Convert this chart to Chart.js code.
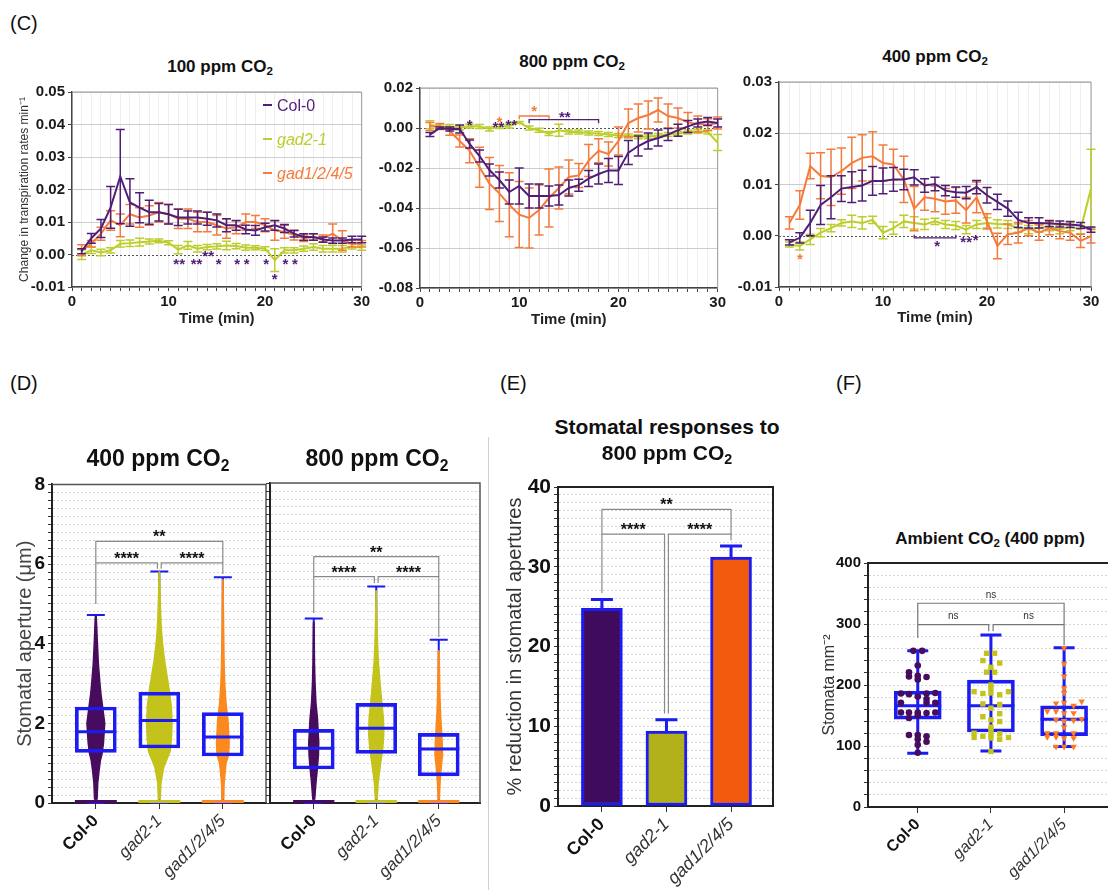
<!DOCTYPE html>
<html lang="en">
<head>
<meta charset="utf-8">
<title>GAD mutants: transpiration and stomatal responses to CO2</title>
<script src="https://cdn.jsdelivr.net/npm/chart.js@4.4.1/dist/chart.umd.min.js"></script>
<style>
  html, body { margin: 0; background: #fff; }
  #page { position: relative; width: 1108px; height: 890px; overflow: hidden;
          font-family: "Liberation Sans", Arial, sans-serif; color: #111; }
  #page canvas { position: absolute; }
  .txt { position: absolute; white-space: nowrap; line-height: 1; }
  .mid { transform: translateX(-50%); }
  .title { font-weight: bold; }
  .title sub { font-size: 68%; vertical-align: -0.3em; line-height: 0; }
  .panel { font-size: 20px; }
  .key { font-size: 16px; }
  .key span { display: inline-block; width: 9px; height: 2px; vertical-align: 5px; margin-right: 5px; }
  #divider { position: absolute; left: 488px; top: 437px; width: 1px; height: 453px; background: #d0d0d0; }
</style>
</head>
<body>
<div id="page"><div id="divider"></div></div>
<script>
// ---------- data ----------
var groups = ['Col-0', 'gad2-1', 'gad1/2/4/5'];
var groupTicks = [0, 1, 2];

// (C) change in transpiration, mean and SEM per minute
var minutes = [1,2,3,4,5,6,7,8,9,10,11,12,13,14,15,16,17,18,19,20,21,22,23,24,25,26,27,28,29,30];

var lowCol0 = [0.001,0.005,0.008,0.0145,0.024,0.016,0.0144,0.013,0.013,0.0124,0.0114,0.0114,0.0114,0.011,0.0105,0.009,0.009,0.0077,0.0074,0.0084,0.009,0.008,0.0064,0.0054,0.0054,0.0046,0.0043,0.0043,0.0046,0.0046];
var lowCol0Err = [0.0008,0.0015,0.0028,0.0064,0.0145,0.0073,0.0046,0.0037,0.0027,0.003,0.0025,0.002,0.002,0.002,0.002,0.002,0.0015,0.0013,0.0015,0.0012,0.0015,0.0012,0.001,0.001,0.001,0.0008,0.0008,0.0008,0.001,0.001];
var lowGad2 = [0,0.0013,0.0006,0.0013,0.0033,0.0035,0.0038,0.004,0.0042,0.0036,0.0015,0.0028,0.0018,0.0023,0.0025,0.0028,0.0026,0.0021,0.0021,0.0018,-0.0017,0.0013,0.0013,0.0018,0.0023,0.0018,0.0018,0.0018,0.0025,0.0021];
var lowGad2Err = [0.0015,0.001,0.001,0.0008,0.001,0.001,0.0012,0.0008,0.0006,0.0006,0.0013,0.0012,0.001,0.0008,0.0008,0.0013,0.0008,0.0008,0.0006,0.0006,0.0035,0.0008,0.0008,0.0008,0.001,0.001,0.001,0.001,0.0008,0.0008];
var lowGad1 = [0.0013,0.0033,0.0064,0.0105,0.009,0.0124,0.0114,0.012,0.013,0.0124,0.011,0.011,0.01,0.01,0.009,0.008,0.0084,0.01,0.01,0.009,0.0074,0.007,0.006,0.005,0.0054,0.005,0.0064,0.0043,0.0033,0.0033];
var lowGad1Err = [0.0017,0.001,0.002,0.003,0.0035,0.003,0.003,0.003,0.003,0.003,0.003,0.003,0.003,0.003,0.003,0.003,0.002,0.0025,0.002,0.002,0.003,0.002,0.0015,0.001,0.001,0.001,0.003,0.003,0.001,0.001];

var highCol0 = [-0.0033,0,-0.0005,-0.0005,-0.008,-0.014,-0.021,-0.026,-0.032,-0.029,-0.034,-0.034,-0.034,-0.0335,-0.03,-0.0286,-0.0253,-0.023,-0.0212,-0.0212,-0.0123,-0.009,-0.0065,-0.005,-0.0033,-0.0011,0.0008,0.0025,0.0033,0.0025];
var highCol0Err = [0.001,0.0005,0.001,0.002,0.002,0.003,0.003,0.004,0.006,0.009,0.006,0.006,0.005,0.005,0.004,0.003,0.004,0.005,0.006,0.007,0.006,0.005,0.004,0.004,0.003,0.003,0.003,0.002,0.002,0.002];
var highGad2 = [0.0016,0.0008,0.0008,0,0.001,0.0008,-0.0005,0.0008,0.001,0.0028,0,-0.0011,-0.0028,-0.0011,-0.002,-0.002,-0.0025,-0.0028,-0.0033,-0.0038,-0.004,-0.0044,-0.0044,-0.0038,-0.0033,-0.0028,-0.002,-0.0016,-0.002,-0.0073];
var highGad2Err = [0.002,0.001,0.001,0.001,0.001,0.001,0.001,0.001,0.001,0.0005,0.001,0.001,0.001,0.003,0.001,0.001,0.001,0.001,0.001,0.001,0.001,0.001,0.001,0.001,0.001,0.001,0.001,0.001,0.001,0.004];
var highGad1 = [0.0008,0.0008,-0.0016,-0.0065,-0.0114,-0.0196,-0.0278,-0.0327,-0.0384,-0.0433,-0.045,-0.041,-0.035,-0.03,-0.0245,-0.0237,-0.0163,-0.0114,-0.013,-0.0065,0.0025,0.005,0.0065,0.009,0.006,0.005,0.0028,0.002,0.0016,0.0025];
var highGad1Err = [0.002,0.0015,0.002,0.003,0.006,0.01,0.013,0.014,0.016,0.0165,0.015,0.0125,0.0145,0.0105,0.0085,0.006,0.008,0.006,0.006,0.007,0.007,0.007,0.007,0.006,0.006,0.005,0.005,0.004,0.003,0.003];

var ambCol0 = [-0.0013,-0.0004,0.0025,0.006,0.0075,0.0092,0.0095,0.0098,0.0107,0.0107,0.011,0.011,0.0114,0.0098,0.0101,0.0088,0.0085,0.0084,0.0095,0.0079,0.0066,0.0053,0.0031,0.0025,0.0025,0.0024,0.0023,0.0022,0.002,0.0012];
var ambCol0Err = [0.0005,0.001,0.0025,0.0038,0.0042,0.0025,0.003,0.003,0.0028,0.0025,0.0023,0.002,0.0015,0.0013,0.0013,0.001,0.001,0.0012,0.0013,0.0015,0.0015,0.0015,0.0015,0.001,0.001,0.0006,0.0006,0.0006,0.0006,0.0005];
var ambGad2 = [-0.0017,-0.002,-0.0007,0.0006,0.0015,0.0025,0.0028,0.0025,0.0031,0.0006,0.0015,0.0028,0.0025,0.0022,0.0028,0.0022,0.002,0.0012,0.0022,0.0025,0.0023,0.0022,0.0015,0.0012,0.0015,0.0018,0.0012,0.0018,0.0012,0.0092];
var ambGad2Err = [0.0005,0.0008,0.001,0.0008,0.0007,0.0006,0.0012,0.0012,0.0007,0.0012,0.0012,0.0012,0.0012,0.001,0.0006,0.0008,0.0008,0.0008,0.0008,0.001,0.0008,0.0008,0.0008,0.0008,0.0008,0.0008,0.0008,0.0008,0.0008,0.0077];
var ambGad1 = [0.0025,0.006,0.0136,0.0117,0.0114,0.0126,0.0142,0.0152,0.0155,0.0142,0.0139,0.011,0.0053,0.0075,0.0072,0.0067,0.0069,0.005,0.0075,0.0028,-0.002,0.0003,0.0006,0.0015,0.0006,0.0015,0.0009,0.0006,-0.001,-0.0001];
var ambGad1Err = [0.0012,0.0028,0.0025,0.0045,0.0055,0.0045,0.005,0.0045,0.0048,0.0035,0.003,0.0045,0.0043,0.0025,0.0025,0.0025,0.0025,0.0025,0.003,0.0015,0.0025,0.002,0.002,0.0015,0.0015,0.0013,0.0015,0.0015,0.0013,0.0013];

// significance marks [minute, value, text, colour key] and brackets [from, to, at, leftEnd, rightEnd, text, colour key]
var lowStars = [[11.1,-0.0017,'**','c'],[12.9,-0.0017,'**','c'],[14.1,0.0006,'**','c'],[15.2,-0.0017,'*','c'],[17.1,-0.0017,'*','c'],[18.1,-0.0017,'*','c'],[20.1,-0.0017,'*','c'],[21,-0.0063,'*','c'],[22.1,-0.0017,'*','c'],[23.1,-0.0017,'*','c']];
var highStars = [[5,0.0035,'*','c'],[7.9,0.0025,'**','c'],[9.2,0.0033,'**','c'],[8,0.0048,'*','o'],[11.5,0.0103,'*','o'],[14.6,0.0074,'**','c']];
var highBrackets = [[10,13,0.006,0.0044,0.0044,'','o'],[11,18,0.0042,0.0024,0.0024,'','c']];
var ambStars = [[15.2,-0.0014,'*','c'],[18,-0.0006,'**','c'],[18.9,-0.0001,'*','c'],[2,-0.0039,'*','o']];
var ambBrackets = [[13,17,-0.0004,0.0002,0.0002,'','c']];

// (D) stomatal aperture (um): [min, q1, median, q3, max]
var aperture400 = [[0,1.27,1.79,2.41,4.72],[0,1.38,2.07,2.78,5.81],[0,1.18,1.66,2.27,5.67]];
var aperture800 = [[0,0.85,1.37,1.84,4.61],[0,1.24,1.87,2.49,5.41],[0,0.68,1.35,1.74,4.08]];
// outline of each dot swarm: [aperture, half width in group units]
var col0Swarm400 = [[0.1,0.02],[0.5,0.03],[0.8,0.05],[1.05,0.07],[1.25,0.1],[1.5,0.12],[1.75,0.13],[2,0.14],[2.25,0.12],[2.5,0.1],[2.75,0.08],[3,0.065],[3.5,0.04],[4,0.025],[4.5,0.012],[4.7,0.004]];
var gad2Swarm400 = [[0.1,0.015],[0.5,0.025],[0.9,0.07],[1.1,0.12],[1.3,0.17],[1.6,0.19],[2,0.2],[2.4,0.19],[2.8,0.16],[3.2,0.12],[3.6,0.08],[4,0.05],[4.4,0.03],[5,0.015],[5.8,0.004]];
var gad1Swarm400 = [[0.1,0.015],[0.5,0.02],[1,0.05],[1.2,0.09],[1.5,0.1],[1.8,0.09],[2.1,0.08],[2.5,0.05],[3,0.03],[3.5,0.02],[4.5,0.012],[5.6,0.004]];
var col0Swarm800 = [[0.1,0.015],[0.5,0.035],[0.9,0.06],[1.2,0.075],[1.5,0.08],[1.8,0.07],[2.1,0.06],[2.5,0.035],[3,0.02],[3.5,0.012],[4.5,0.004]];
var gad2Swarm800 = [[0.1,0.015],[0.5,0.03],[1,0.07],[1.3,0.1],[1.7,0.12],[2.1,0.115],[2.5,0.09],[3,0.06],[3.5,0.035],[4,0.02],[4.5,0.012],[5.3,0.004]];
var gad1Swarm800 = [[0.1,0.01],[0.5,0.02],[0.9,0.04],[1.2,0.06],[1.5,0.055],[1.8,0.045],[2.2,0.03],[2.6,0.02],[3,0.015],[3.8,0.006]];
var aperture400Brackets = [[0,2,6.57,6.03,6.03,'**'],[0,0.97,6.03,5.0,5.88,'****'],[1.03,2,6.03,5.88,5.75,'****']];
var aperture800Brackets = [[0,2,6.16,5.66,5.66,'**'],[0,0.97,5.66,4.75,5.5,'****'],[1.03,2,5.66,5.5,4.15,'****']];
var apertureTicks = [0,2,4,6,8];

// (E) % reduction in aperture at 800 ppm, mean and SEM
var reduction = [24.8, 9.4, 31.2];
var reductionErr = [1.1, 1.4, 1.4];
var reductionBrackets = [[0,2,37.2,34.1,34.1,'**'],[0,0.97,34.1,26.7,11.6,'****'],[1.03,2,34.1,11.6,33.3,'****']];
var reductionTicks = [0,10,20,30,40];

// (F) stomatal density: box stats and single leaves [offset, stomata per mm2]
var density = [[88,144,166,190,256],[92,123,166,208,282],[99,117,144,166,261]];
var col0Density = [[-0.06,256],[0.06,256],[0,232],[-0.12,221],[-0.12,214],[0,215],[0,209],[0.12,213],[-0.23,186],[-0.12,185],[0,181],[0.12,186],[0.24,187],[-0.23,171],[0.12,177],[0.12,171],[0.24,171],[-0.23,155],[-0.12,155],[0,155],[0.12,154],[0.24,155],[-0.12,146],[0,150],[-0.12,118],[0,118],[0.12,116],[0,111],[0.12,107],[0,102],[0,89]];
var gad2Density = [[-0.06,252],[0.05,252],[-0.11,240],[0.12,236],[0,229],[-0.06,221],[0.05,221],[0,200],[0,195],[-0.23,189],[-0.11,186],[0,187],[0.12,184],[0.24,189],[-0.11,169],[0.12,168],[0,162],[0.12,153],[-0.11,148],[0,143],[0.12,140],[0,131],[0,127],[-0.23,121],[-0.23,114],[-0.11,116],[0,120],[0,113],[0.12,120],[0.12,111],[0.24,114],[0,91]];
var gad1Density = [[0,261],[0,235],[0,214],[0,195],[0,187],[-0.11,170],[0,171],[0.13,166],[0.24,173],[-0.23,157],[-0.11,157],[0,154],[0.13,154],[-0.11,143],[0,141],[0.13,142],[0.24,144],[0,131],[-0.23,121],[-0.11,121],[0.13,121],[-0.23,115],[-0.11,115],[0,113],[0.13,113],[-0.11,99],[0,99],[0.13,99]];
var densityBrackets = [[0,2,334,299,299,'ns'],[0,0.97,299,277,288,'ns'],[1.03,2,299,288,265,'ns']];
var densityTicks = [0,100,200,300,400];

// ---------- colours ----------
var PURPLE = '#4f1f78', LIME = '#bccd2c', ORANGE = '#f47b3b';
var BLUE = '#1b1bf2';
var DK_PURPLE = '#480c5e', OLIVE = '#c3c31c', AMBER = '#fb8a1e';
var BAR_COLOURS = ['#3f0b5c', '#b2b01b', '#f25b0e'];
var markColour = { c: PURPLE, o: ORANGE };

Chart.defaults.font.family = '"Liberation Sans", Arial, sans-serif';
Chart.defaults.color = '#222';
Chart.defaults.animation = false;
Chart.defaults.responsive = false;
Chart.defaults.plugins.legend.display = false;
Chart.defaults.plugins.tooltip.enabled = false;

var page = document.getElementById('page');

function makeCanvas(left, top, w, h) {
  var c = document.createElement('canvas');
  c.width = w; c.height = h;
  c.style.left = left + 'px'; c.style.top = top + 'px';
  page.appendChild(c);
  return c;
}

function addText(html, left, top, cls, css) {
  var d = document.createElement('div');
  d.className = 'txt ' + (cls || '');
  d.innerHTML = html;
  d.style.left = left + 'px'; d.style.top = top + 'px';
  if (css) Object.assign(d.style, css);
  page.appendChild(d);
  return d;
}

// '*' sits high in the em box and letters sit low, so both get centred on yc
function drawMark(ctx, text, x, yc, size, color, weight) {
  ctx.save();
  ctx.font = (weight || 'bold') + ' ' + size + 'px "Liberation Sans", Arial, sans-serif';
  ctx.fillStyle = color;
  ctx.textAlign = 'center';
  ctx.textBaseline = 'alphabetic';
  var lift = /^\*+$/.test(text) ? 0.57 : 0.26;
  ctx.fillText(text, x, yc + size * lift);
  ctx.restore();
}

// ---------- plugins ----------
function framePlugin(color, width, right) {
  return { id: 'frame', beforeDatasetsDraw: function(chart) {
    var a = chart.chartArea, ctx = chart.ctx;
    ctx.save(); ctx.strokeStyle = color; ctx.lineWidth = width;
    ctx.beginPath();
    ctx.moveTo(a.left, a.top); ctx.lineTo(a.right, a.top);
    if (right) ctx.lineTo(a.right, a.bottom);
    ctx.stroke(); ctx.restore();
  }};
}

var zeroLine = { id: 'zeroLine', beforeDatasetsDraw: function(chart) {
  var a = chart.chartArea, ctx = chart.ctx, y = Math.round(chart.scales.y.getPixelForValue(0)) + 0.5;
  ctx.save(); ctx.strokeStyle = '#555'; ctx.lineWidth = 1; ctx.setLineDash([2, 2]);
  ctx.beginPath(); ctx.moveTo(a.left, y); ctx.lineTo(a.right, y); ctx.stroke(); ctx.restore();
}};

// error bars go right after their own dataset so they stack with it
var errorBars = { id: 'errorBars', afterDatasetDraw: function(chart, args) {
  var ds = chart.data.datasets[args.index];
  if (!ds.errors) return;
  var ctx = chart.ctx, x = chart.scales.x, y = chart.scales.y, cap = ds.capWidth || 4;
  ctx.save();
  ctx.strokeStyle = ds.errorColor || ds.borderColor;
  ctx.lineWidth = ds.errorWidth || 1.5;
  ds.data.forEach(function(p, i) {
    var px = x.getPixelForValue(p.x);
    var top = y.getPixelForValue(p.y + ds.errors[i]);
    var bot = y.getPixelForValue(ds.upOnly ? p.y : p.y - ds.errors[i]);
    ctx.beginPath();
    ctx.moveTo(px, top); ctx.lineTo(px, bot);
    ctx.moveTo(px - cap, top); ctx.lineTo(px + cap, top);
    if (!ds.upOnly) { ctx.moveTo(px - cap, bot); ctx.lineTo(px + cap, bot); }
    ctx.stroke();
  });
  ctx.restore();
}};

function starPlugin(items, size) {
  return { id: 'stars', afterDatasetsDraw: function(chart) {
    var x = chart.scales.x, y = chart.scales.y;
    items.forEach(function(s) {
      drawMark(chart.ctx, s[2], x.getPixelForValue(s[0]), y.getPixelForValue(s[1]), size, markColour[s[3]], 'bold');
    });
  }};
}

function bracketPlugin(items, style) {
  return { id: 'brackets', afterDatasetsDraw: function(chart) {
    var x = chart.scales.x, y = chart.scales.y, ctx = chart.ctx;
    items.forEach(function(b) {
      var x1 = x.getPixelForValue(b[0]), x2 = x.getPixelForValue(b[1]), yl = y.getPixelForValue(b[2]);
      ctx.save();
      ctx.strokeStyle = b[6] ? markColour[b[6]] : style.line;
      ctx.lineWidth = style.width;
      ctx.beginPath();
      ctx.moveTo(x1, y.getPixelForValue(b[3])); ctx.lineTo(x1, yl);
      ctx.lineTo(x2, yl); ctx.lineTo(x2, y.getPixelForValue(b[4]));
      ctx.stroke(); ctx.restore();
      if (b[5]) drawMark(ctx, b[5], (x1 + x2) / 2, yl - style.gap, style.size, style.text, style.weight);
    });
  }};
}

// whiskers, dot swarms and medians around the floating-bar boxes
function boxPlugin(stats, opt) {
  function medians(chart) {
    var x = chart.scales.x, y = chart.scales.y, ctx = chart.ctx;
    ctx.save(); ctx.strokeStyle = BLUE; ctx.lineWidth = opt.box;
    stats.forEach(function(s, i) {
      var px = x.getPixelForValue(i), py = y.getPixelForValue(s[2]);
      ctx.beginPath(); ctx.moveTo(px - opt.half, py); ctx.lineTo(px + opt.half, py); ctx.stroke();
    });
    ctx.restore();
  }
  return {
    id: 'boxes',
    beforeDatasetsDraw: function(chart) {
      var x = chart.scales.x, y = chart.scales.y, ctx = chart.ctx;
      stats.forEach(function(s, i) {
        var px = x.getPixelForValue(i);
        ctx.save(); ctx.strokeStyle = BLUE; ctx.lineWidth = opt.whisker;
        ctx.beginPath();
        ctx.moveTo(px, y.getPixelForValue(s[0])); ctx.lineTo(px, y.getPixelForValue(s[4]));
        [s[0], s[4]].forEach(function(v) {
          var py = y.getPixelForValue(v);
          ctx.moveTo(px - opt.cap, py); ctx.lineTo(px + opt.cap, py);
        });
        ctx.stroke(); ctx.restore();
        if (opt.swarms) {
          var sw = opt.swarms[i];
          ctx.save(); ctx.fillStyle = opt.colors[i]; ctx.strokeStyle = opt.colors[i]; ctx.lineWidth = 1.5;
          ctx.beginPath();
          sw.forEach(function(r, k) {
            var fx = x.getPixelForValue(i + r[1]), fy = y.getPixelForValue(r[0]);
            if (k === 0) ctx.moveTo(fx, fy); else ctx.lineTo(fx, fy);
          });
          for (var k = sw.length - 1; k >= 0; k--) {
            ctx.lineTo(x.getPixelForValue(i - sw[k][1]), y.getPixelForValue(sw[k][0]));
          }
          ctx.closePath(); ctx.fill(); ctx.stroke();
          // leaves with closed pores lie in a row on the axis
          var y0 = y.getPixelForValue(0);
          var l = x.getPixelForValue(i - opt.zeroRow), r = x.getPixelForValue(i + opt.zeroRow);
          ctx.fillRect(l, y0 - 3, r - l, 3);
          ctx.restore();
        }
      });
      if (!opt.medianOnTop) medians(chart);
    },
    afterDatasetsDraw: function(chart) { if (opt.medianOnTop) medians(chart); }
  };
}

// ---------- axis builders ----------
function groupAxis(min, max, height, size) {
  return {
    type: 'linear', min: min, max: max, offset: false,
    afterBuildTicks: function(s) { s.ticks = groupTicks.map(function(v) { return { value: v }; }); },
    ticks: {
      autoSkip: false, minRotation: 45, maxRotation: 45, padding: 2,
      callback: function(v) { return groups[v]; },
      font: function(c) { return c.index === 0 ? { size: size, weight: 'bold' } : { size: size, style: 'italic' }; },
      color: function(c) { return c.index === 0 ? '#111' : '#333'; }
    },
    grid: { drawOnChartArea: false, tickLength: 6, tickColor: '#333', offset: false },
    border: { color: '#222', width: 2 },
    afterFit: function(s) { s.height = height; }
  };
}

function valueAxis(min, max, step, majors, width, size, title, showLabels) {
  return {
    min: min, max: max,
    ticks: {
      display: showLabels, stepSize: step, autoSkip: false, padding: 3,
      font: { size: size, weight: 'bold' }, color: '#111',
      callback: function(v) { var r = Math.round(v * 1000) / 1000; return majors.indexOf(r) >= 0 ? String(r) : ''; }
    },
    grid: { color: '#d6d6d6', tickColor: '#333', tickLength: 4 },
    border: { color: '#222', width: 2, dash: [2, 2] },
    title: title || { display: false },
    afterFit: function(s) { s.width = width; }
  };
}

function trace(label, vals, errs, color) {
  return {
    label: label,
    data: minutes.map(function(m, i) { return { x: m, y: vals[i] }; }),
    errors: errs,
    borderColor: color, backgroundColor: color,
    borderWidth: 2, pointRadius: 0, tension: 0, capWidth: 4.5, errorWidth: 1.5
  };
}

function timeCourse(canvas, c) {
  return new Chart(canvas, {
    type: 'line',
    data: { datasets: [
      trace(groups[0], c.col0, c.col0Err, PURPLE),
      trace(groups[2], c.gad1, c.gad1Err, ORANGE),
      trace(groups[1], c.gad2, c.gad2Err, LIME)
    ]},
    options: {
      layout: { autoPadding: false, padding: c.padding },
      scales: {
        x: {
          type: 'linear', min: 0, max: 30,
          ticks: { stepSize: 1, autoSkip: false, maxRotation: 0, padding: 2,
                   font: { size: 15, weight: 'bold' }, color: '#1a1a1a',
                   callback: function(v) { return v % 10 === 0 ? String(v) : ''; } },
          grid: { color: '#eeeeee', tickColor: '#444', tickLength: 4 },
          border: { color: '#444', width: 1.5 },
          title: { display: true, text: 'Time (min)', font: { size: 15, weight: 'bold' }, color: '#222',
                   padding: { top: 0, bottom: c.xTitlePad } },
          afterFit: function(s) { s.height = 43; }
        },
        y: {
          min: c.yMin, max: c.yMax,
          ticks: { stepSize: c.yStep, padding: 3, font: { size: 15, weight: 'bold' }, color: '#1a1a1a',
                   callback: function(v) { return v.toFixed(2); } },
          grid: { color: function(ctx) { return ctx.tick && Math.abs(ctx.tick.value) < 1e-9 ? 'rgba(0,0,0,0)' : '#cccccc'; },
                  tickColor: '#444', tickLength: 4 },
          border: { color: '#444', width: 1.5 },
          title: c.yTitle || { display: false },
          afterFit: function(s) { s.width = c.yWidth; }
        }
      }
    },
    plugins: [zeroLine, framePlugin('#999', 1, true), errorBars, starPlugin(c.stars, 15),
              bracketPlugin(c.brackets || [], { line: PURPLE, width: 1.3, gap: 0, size: 15, text: PURPLE })]
  });
}

// ---------- (C) ----------
timeCourse(makeCanvas(0, 80, 372, 250), {
  col0: lowCol0, col0Err: lowCol0Err, gad2: lowGad2, gad2Err: lowGad2Err, gad1: lowGad1, gad1Err: lowGad1Err,
  yMin: -0.01, yMax: 0.05, yStep: 0.01, yWidth: 72, xTitlePad: 2,
  padding: { left: 0, right: 3, top: 9, bottom: 0 },
  yTitle: { display: true, text: 'Change in transpiration rates min\u207B\u00B9', font: { size: 12 }, color: '#333',
            padding: { top: 17, bottom: 0 } },
  stars: lowStars
});
timeCourse(makeCanvas(372, 76, 356, 255), {
  col0: highCol0, col0Err: highCol0Err, gad2: highGad2, gad2Err: highGad2Err, gad1: highGad1, gad1Err: highGad1Err,
  yMin: -0.08, yMax: 0.02, yStep: 0.02, yWidth: 48, xTitlePad: 2,
  padding: { left: 0, right: 5, top: 8, bottom: 0 },
  stars: highStars, brackets: highBrackets
});
timeCourse(makeCanvas(728, 70, 380, 260), {
  col0: ambCol0, col0Err: ambCol0Err, gad2: ambGad2, gad2Err: ambGad2Err, gad1: ambGad1, gad1Err: ambGad1Err,
  yMin: -0.01, yMax: 0.03, yStep: 0.01, yWidth: 51, xTitlePad: 3,
  padding: { left: 0, right: 17, top: 7, bottom: 0 },
  stars: ambStars, brackets: ambBrackets
});

// ---------- (D) ----------
function boxData(stats) {
  return stats.map(function(s, i) { return { x: i, y: [s[1], s[3]] }; });
}

function boxDataset(stats, thickness) {
  return { type: 'bar', data: boxData(stats), backgroundColor: 'rgba(0,0,0,0)', borderColor: BLUE,
           borderWidth: 3, borderSkipped: false, barThickness: thickness, order: 5 };
}

var markStyle = { line: '#8a8a8a', width: 1.2, gap: 8, size: 16, text: '#111', weight: 'bold' };

new Chart(makeCanvas(0, 470, 270, 420), {
  type: 'bar',
  data: { datasets: [boxDataset(aperture400, 41)] },
  options: {
    layout: { autoPadding: false, padding: { left: 0, right: 4, top: 13, bottom: 0 } },
    scales: {
      x: groupAxis(-0.69, 2.68, 87, 17),
      y: valueAxis(0, 8, 0.2, apertureTicks, 52, 19,
        { display: true, text: 'Stomatal aperture (\u03BCm)', font: { size: 20 }, color: '#444', padding: { top: 13, bottom: 0 } }, true)
    }
  },
  plugins: [framePlugin('#555', 1.5, true),
            boxPlugin(aperture400, { whisker: 2, cap: 9, box: 3, half: 20.5, zeroRow: 0.33, medianOnTop: true,
                                     swarms: [col0Swarm400, gad2Swarm400, gad1Swarm400], colors: [DK_PURPLE, OLIVE, AMBER] }),
            bracketPlugin(aperture400Brackets, markStyle)]
});

new Chart(makeCanvas(266, 470, 222, 420), {
  type: 'bar',
  data: { datasets: [boxDataset(aperture800, 41)] },
  options: {
    layout: { autoPadding: false, padding: { left: 0, right: 8, top: 13, bottom: 0 } },
    scales: {
      x: groupAxis(-0.7, 2.66, 87, 17),
      y: valueAxis(0, 8, 0.2, apertureTicks, 4, 19, null, false)
    }
  },
  plugins: [framePlugin('#555', 1.5, true),
            boxPlugin(aperture800, { whisker: 2, cap: 9, box: 3, half: 20.5, zeroRow: 0.33, medianOnTop: true,
                                     swarms: [col0Swarm800, gad2Swarm800, gad1Swarm800], colors: [DK_PURPLE, OLIVE, AMBER] }),
            bracketPlugin(aperture800Brackets, markStyle)]
});

// ---------- (E) ----------
new Chart(makeCanvas(490, 470, 310, 420), {
  type: 'bar',
  data: { datasets: [{
    data: reduction.map(function(v, i) { return { x: i, y: v }; }),
    errors: reductionErr, upOnly: true, errorColor: BLUE, errorWidth: 3, capWidth: 11,
    backgroundColor: BAR_COLOURS, borderColor: BLUE, borderWidth: 3, borderSkipped: false, barThickness: 41
  }]},
  options: {
    layout: { autoPadding: false, padding: { left: 0, right: 27, top: 17, bottom: 0 } },
    scales: {
      x: groupAxis(-0.68, 2.65, 84, 18),
      y: valueAxis(0, 40, 1, reductionTicks, 68, 21,
        { display: true, text: '% reduction in stomatal apertures', font: { size: 20 }, color: '#333', padding: { top: 13, bottom: 0 } }, true)
    }
  },
  plugins: [framePlugin('#222', 2, true), errorBars, bracketPlugin(reductionBrackets, markStyle)]
});

// ---------- (F) ----------
function leafPoints(list, i) {
  return list.map(function(p) { return { x: i + p[0], y: p[1] }; });
}

new Chart(makeCanvas(820, 550, 288, 340), {
  type: 'bar',
  data: { datasets: [
    { type: 'scatter', data: leafPoints(col0Density, 0), pointStyle: 'circle', pointRadius: 3.3,
      backgroundColor: DK_PURPLE, borderWidth: 0, order: 0 },
    { type: 'scatter', data: leafPoints(gad2Density, 1), pointStyle: 'rect', pointRadius: 3.8,
      backgroundColor: OLIVE, borderWidth: 0, order: 1 },
    { type: 'scatter', data: leafPoints(gad1Density, 2), pointStyle: 'triangle', pointRotation: 180, pointRadius: 3.8,
      backgroundColor: '#ff7a1f', borderWidth: 0, order: 2 },
    boxDataset(density, 47)
  ]},
  options: {
    layout: { autoPadding: false, padding: { left: 0, right: 0, top: 13, bottom: 0 } },
    scales: {
      x: groupAxis(-0.68, 2.6, 83, 16),
      y: valueAxis(0, 400, 20, densityTicks, 48, 15,
        { display: true, text: 'Stomata mm\u207B\u00B2', font: { size: 16 }, color: '#333', padding: { top: 0, bottom: 0 } }, true)
    }
  },
  plugins: [framePlugin('#222', 2, false),
            boxPlugin(density, { whisker: 3, cap: 10.5, box: 3, half: 23.5, medianOnTop: false }),
            bracketPlugin(densityBrackets, { line: '#777', width: 1.2, gap: 8, size: 10, text: '#333', weight: 'normal' })]
});

// ---------- titles, panel letters, key ----------
addText('(C)', 10, 13, 'panel');
addText('(D)', 10, 373, 'panel');
addText('(E)', 500, 373, 'panel');
addText('(F)', 836, 373, 'panel');

addText('100 ppm CO<sub>2</sub>', 220, 58, 'mid title', { fontSize: '17px' });
addText('800 ppm CO<sub>2</sub>', 572, 53, 'mid title', { fontSize: '17px' });
addText('400 ppm CO<sub>2</sub>', 935, 48, 'mid title', { fontSize: '17px' });

addText('400 ppm CO<sub>2</sub>', 158, 447, 'mid title', { fontSize: '23px' });
addText('800 ppm CO<sub>2</sub>', 377, 447, 'mid title', { fontSize: '23px' });

addText('Stomatal responses to', 667, 416, 'mid title', { fontSize: '21px' });
addText('800 ppm CO<sub>2</sub>', 667, 442, 'mid title', { fontSize: '21px' });

addText('Ambient CO<sub>2</sub> (400 ppm)', 990, 530, 'mid title', { fontSize: '17px' });

addText('<span style="background:' + PURPLE + '"></span>' + groups[0], 263, 98, 'key', { color: PURPLE });
addText('<span style="background:' + LIME + '"></span><i>' + groups[1] + '</i>', 263, 132, 'key', { color: LIME });
addText('<span style="background:' + ORANGE + '"></span><i>' + groups[2] + '</i>', 263, 166, 'key', { color: ORANGE });
</script>
</body>
</html>
